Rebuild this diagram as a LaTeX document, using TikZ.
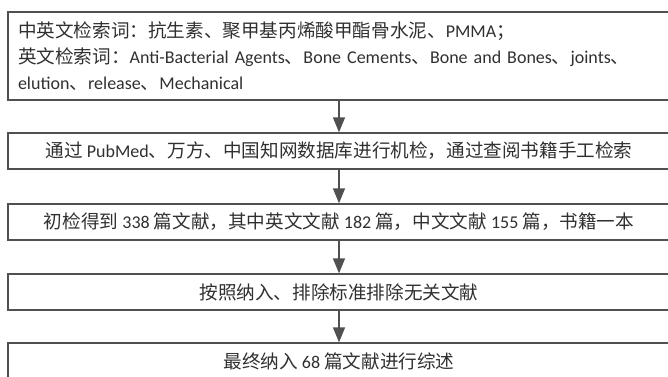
\documentclass[tikz,border=0pt]{standalone}
\usepackage{fontspec}
\setmainfont[Numbers=Lining]{Carlito}
\newfontfamily\cjk{Noto Sans CJK SC}
\newcommand\zh[1]{{\cjk\fontsize{18.6}{26}\selectfont #1}}
\usetikzlibrary{arrows.meta}
\definecolor{boxgray}{HTML}{505050}
\definecolor{txtgray}{HTML}{303030}
\tikzset{
  stepbox/.style={draw=boxgray, line width=1.3pt, text=txtgray, inner sep=0pt,
    minimum width=662pt, minimum height=36pt,
    font=\fontsize{18}{26}\selectfont},
  flowarrow/.style={draw=boxgray, line width=1.3pt, -{Triangle[width=12pt,length=15pt]}}
}
\begin{document}
\begin{tikzpicture}[x=1pt,y=-1pt]
\useasboundingbox (0,0) rectangle (668,376);
\node[stepbox, minimum height=88pt, text width=642pt, align=left, inner xsep=10pt] (b1) at (339,56)
  {\zh{中英文检索词：抗生素、聚甲基丙烯酸甲酯骨水泥、}PMMA\zh{；}\\
   \zh{英文检索词：}Anti-Bacterial Agents\zh{、}Bone Cements\zh{、}Bone and Bones\zh{、}joints\zh{、}\\
   elution\zh{、}release\zh{、}Mechanical};
\node[stepbox] (b2) at (339,151)
  {\zh{通过} PubMed\zh{、万方、中国知网数据库进行机检，通过查阅书籍手工检索}};
\node[stepbox] (b3) at (339,222)
  {\zh{初检得到} 338 \zh{篇文献，其中英文文献} 182 \zh{篇，中文文献} 155 \zh{篇，书籍一本}};
\node[stepbox] (b4) at (339,292)
  {\zh{按照纳入、排除标准排除无关文献}};
\node[stepbox] (b5) at (339,361)
  {\zh{最终纳入} 68 \zh{篇文献进行综述}};
\draw[flowarrow] (b1) -- (b2);
\draw[flowarrow] (b2) -- (b3);
\draw[flowarrow] (b3) -- (b4);
\draw[flowarrow] (b4) -- (b5);
\end{tikzpicture}
\end{document}
